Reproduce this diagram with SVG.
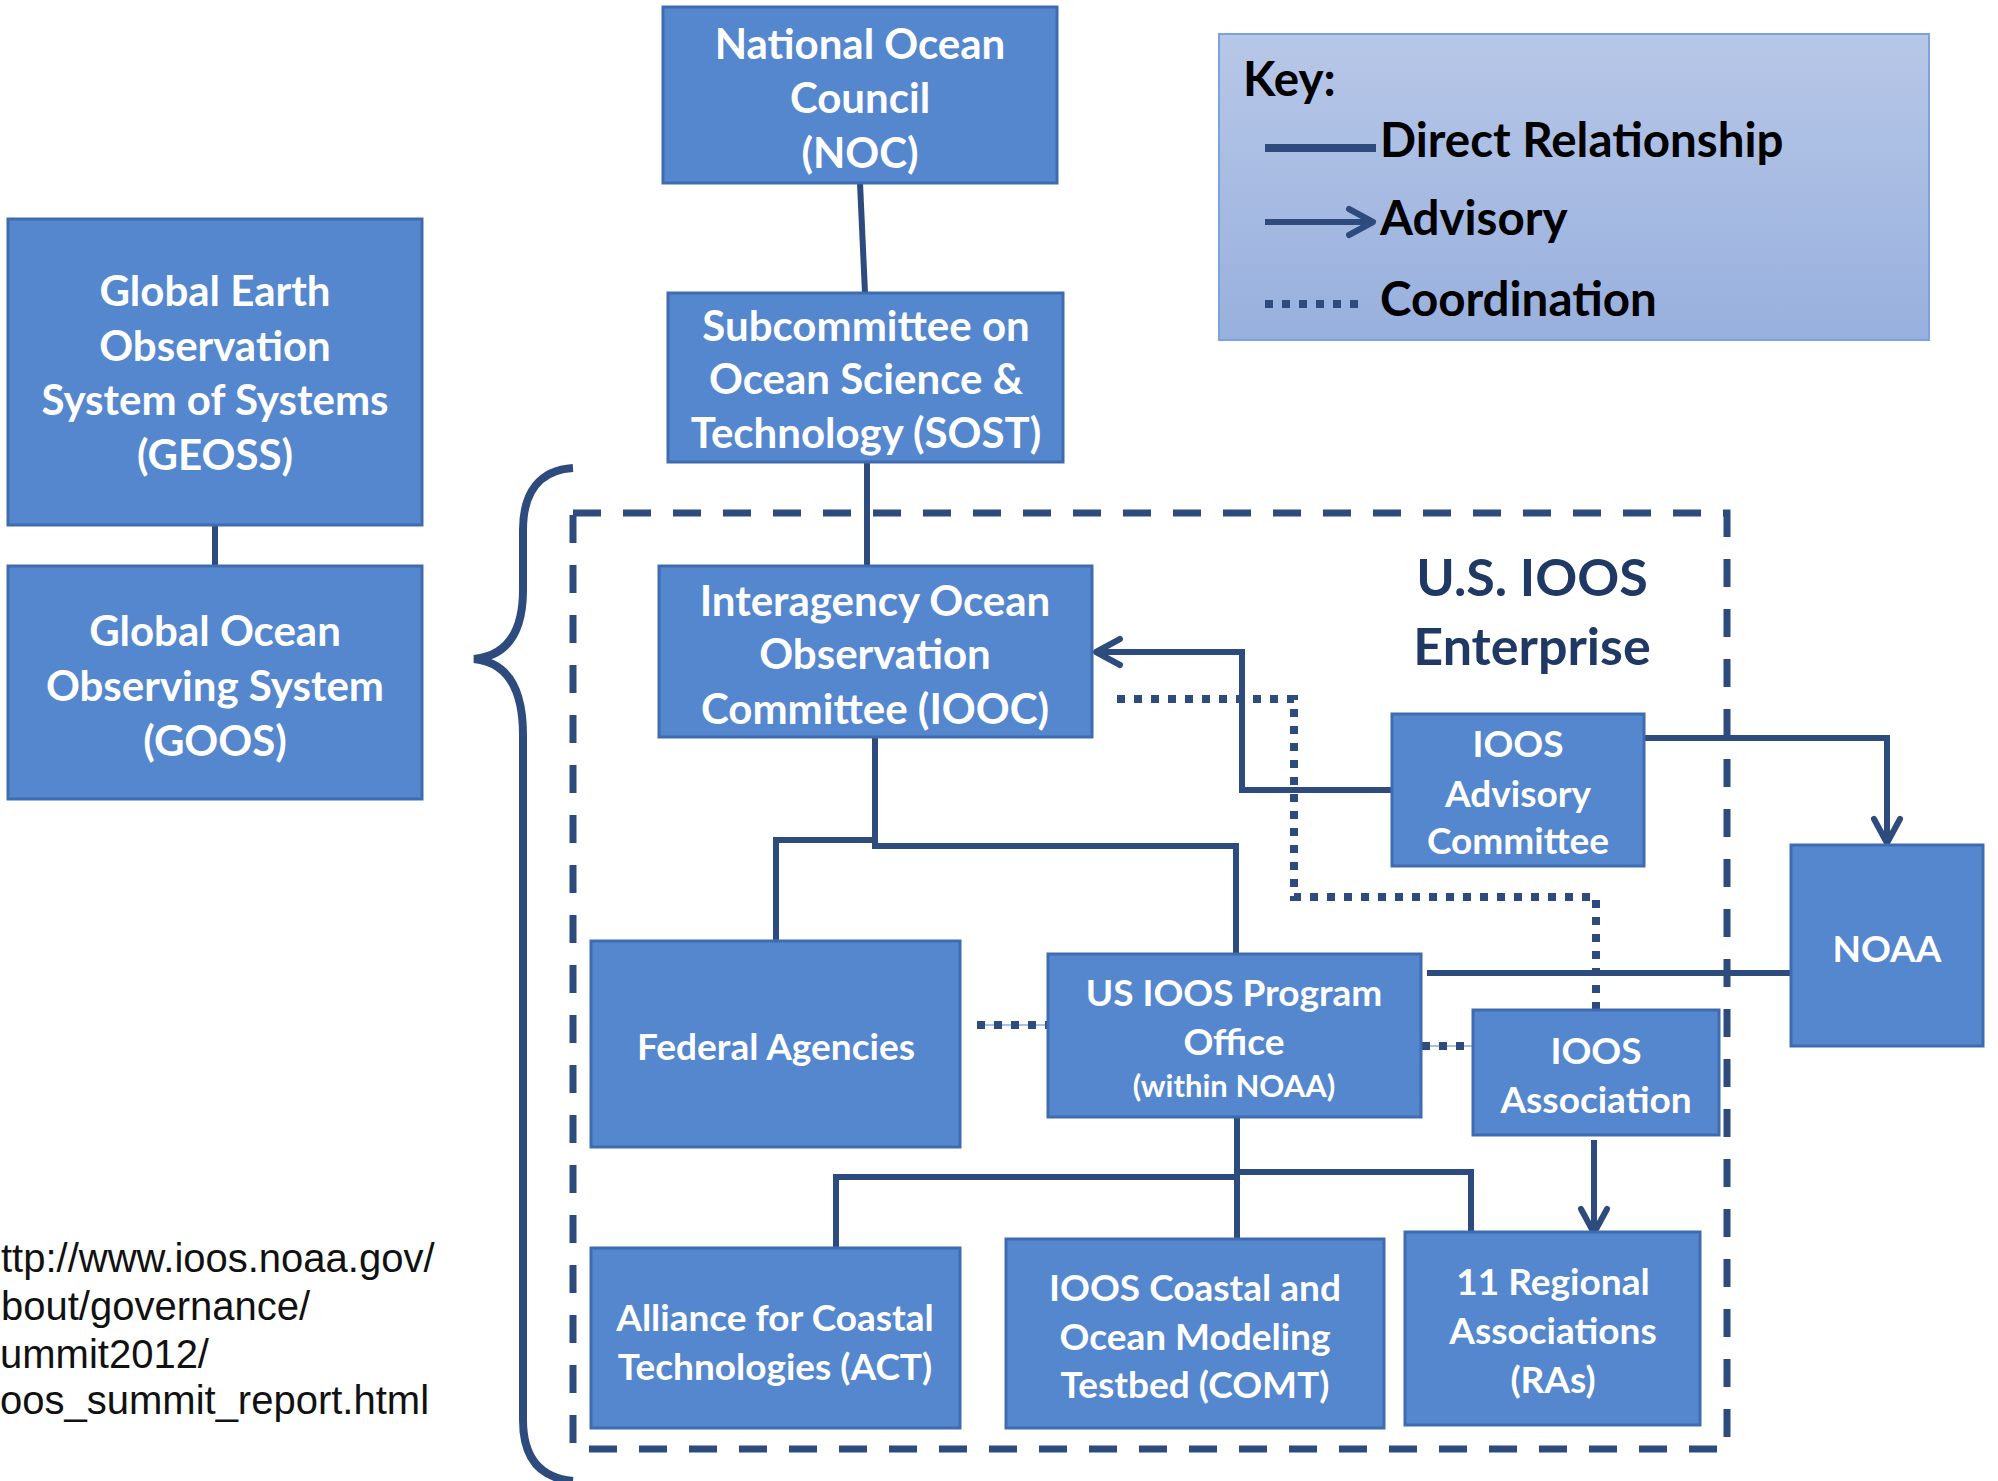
<svg xmlns="http://www.w3.org/2000/svg" width="1998" height="1481" viewBox="0 0 1998 1481">
<defs>
  <linearGradient id="keyGrad" x1="0" y1="0" x2="0" y2="1">
    <stop offset="0" stop-color="#b7c7e7"/>
    <stop offset="1" stop-color="#98b0de"/>
  </linearGradient>
  <marker id="chev" markerUnits="userSpaceOnUse" markerWidth="60" markerHeight="60" refX="0" refY="0" orient="auto" overflow="visible">
    <path d="M-24,-13 L0,0 L-24,13" fill="none" stroke="#2d4b7c" stroke-width="6" stroke-linecap="round" stroke-linejoin="round"/>
  </marker>
  <style>
    .box { fill: #5587cf; stroke: #3f6cb0; stroke-width: 3; }
    .bt { font-family: Lato, "Open Sans", sans-serif; font-weight: bold; fill: #ffffff; text-anchor: middle; }
    .big { font-size: 42px; }
    .med { font-size: 37px; }
    .small { font-size: 31px; }
    .con { fill: none; stroke: #2d4b7c; stroke-width: 6; }
    .dot { fill: none; stroke: #2d4b7c; stroke-width: 8; stroke-dasharray: 8 9; }
    .thin { fill: none; stroke: #8eaadb; stroke-width: 1.5; }
    .keyt { font-family: Lato, "Open Sans", sans-serif; font-weight: bold; font-size: 47.5px; fill: #000000; }
    .ent { font-family: Lato, "Open Sans", sans-serif; font-weight: bold; font-size: 52px; fill: #1f3864; text-anchor: middle; }
    .url { font-family: "Liberation Sans", Arial, sans-serif; font-size: 40px; fill: #111111; }
  </style>
</defs>
<rect width="1998" height="1481" fill="#ffffff"/>

<!-- Enterprise container and brace -->
<g id="enterprise">
  <rect x="573" y="513" width="1154" height="936" fill="none" stroke="#2d4b7c" stroke-width="7" stroke-dasharray="28 22"/>
  <text class="ent" x="1532" y="596">U.S. IOOS</text>
  <text class="ent" x="1532" y="665">Enterprise</text>
</g>
<g id="brace">
  <path d="M573,468 C540,470 523,492 523,530 L523,590 C523,635 505,656 474,659 C505,662 523,685 523,735 L523,1420 C523,1458 540,1478 573,1481" fill="none" stroke="#2d4b7c" stroke-width="8"/>
</g>

<!-- Connectors -->
<g id="connectors">
  <path class="con" d="M860,183 L865,293" stroke-width="8"/>
  <path class="con" d="M867,452 V566" stroke-width="8"/>
  <path class="con" d="M215,525 V566"/>
  <path class="con" d="M875,737 V846 H1236 V954"/>
  <path class="con" d="M875,840 H776 V941"/>
  <path class="con" d="M1392,790 H1242 V652 H1096" marker-end="url(#chev)"/>
  <path class="con" d="M1644,738 H1887 V843" marker-end="url(#chev)"/>
  <path class="con" d="M1427,973 H1791" stroke-width="8"/>
  <path class="con" d="M1237,1111 V1239" stroke-width="10"/>
  <path class="con" d="M1237,1177 H836 V1253"/>
  <path class="con" d="M1237,1172 H1471 V1233"/>
  <path class="con" d="M1594,1140 V1233" marker-end="url(#chev)"/>
  <path class="dot" d="M1117,699 H1294 V897 H1596 V1010"/>
  <path class="thin" d="M977,1025 H1048"/>
  <path class="dot" d="M977,1025 H1048"/>
  <path class="thin" d="M1421,1046 H1473"/>
  <path class="dot" d="M1422,1046 H1473"/>
</g>

<!-- Nodes -->
<g id="noc">
  <rect class="box" x="663" y="7" width="394" height="176"/>
  <text class="bt big" x="860" y="59">National Ocean</text>
  <text class="bt big" x="860" y="113">Council</text>
  <text class="bt big" x="860" y="168">(NOC)</text>
</g>
<g id="sost">
  <rect class="box" x="668" y="293" width="395" height="169"/>
  <text class="bt big" x="866" y="341">Subcommittee on</text>
  <text class="bt big" x="866" y="394">Ocean Science &amp;</text>
  <text class="bt big" x="866" y="448">Technology (SOST)</text>
</g>
<g id="geoss">
  <rect class="box" x="8" y="219" width="414" height="306"/>
  <text class="bt big" x="215" y="306">Global Earth</text>
  <text class="bt big" x="215" y="361">Observation</text>
  <text class="bt big" x="215" y="415">System of Systems</text>
  <text class="bt big" x="215" y="470">(GEOSS)</text>
</g>
<g id="goos">
  <rect class="box" x="8" y="566" width="414" height="233"/>
  <text class="bt big" x="215" y="646">Global Ocean</text>
  <text class="bt big" x="215" y="701">Observing System</text>
  <text class="bt big" x="215" y="756">(GOOS)</text>
</g>
<g id="iooc">
  <rect class="box" x="659" y="566" width="433" height="171"/>
  <text class="bt big" x="875" y="616">Interagency Ocean</text>
  <text class="bt big" x="875" y="669">Observation</text>
  <text class="bt big" x="875" y="724">Committee (IOOC)</text>
</g>
<g id="advisory">
  <rect class="box" x="1392" y="714" width="252" height="152"/>
  <text class="bt med" x="1518" y="757">IOOS</text>
  <text class="bt med" x="1518" y="807">Advisory</text>
  <text class="bt med" x="1518" y="854">Committee</text>
</g>
<g id="noaa">
  <rect class="box" x="1791" y="845" width="192" height="201"/>
  <text class="bt med" x="1887" y="962">NOAA</text>
</g>
<g id="federal">
  <rect class="box" x="591" y="941" width="369" height="206"/>
  <text class="bt med" x="776" y="1060">Federal Agencies</text>
</g>
<g id="program-office">
  <rect class="box" x="1048" y="954" width="373" height="163"/>
  <text class="bt med" x="1234" y="1006">US IOOS Program</text>
  <text class="bt med" x="1234" y="1055">Office</text>
  <text class="bt small" x="1234" y="1097">(within NOAA)</text>
</g>
<g id="association">
  <rect class="box" x="1473" y="1010" width="246" height="125"/>
  <text class="bt med" x="1596" y="1064">IOOS</text>
  <text class="bt med" x="1596" y="1113">Association</text>
</g>
<g id="act">
  <rect class="box" x="591" y="1248" width="369" height="180"/>
  <text class="bt med" x="775" y="1331">Alliance for Coastal</text>
  <text class="bt med" x="775" y="1380">Technologies (ACT)</text>
</g>
<g id="comt">
  <rect class="box" x="1006" y="1239" width="378" height="189"/>
  <text class="bt med" x="1195" y="1301">IOOS Coastal and</text>
  <text class="bt med" x="1195" y="1350">Ocean Modeling</text>
  <text class="bt med" x="1195" y="1398">Testbed (COMT)</text>
</g>
<g id="ras">
  <rect class="box" x="1405" y="1232" width="295" height="193"/>
  <text class="bt med" x="1553" y="1295">11 Regional</text>
  <text class="bt med" x="1553" y="1344">Associations</text>
  <text class="bt med" x="1553" y="1393">(RAs)</text>
</g>

<!-- Key -->
<g id="key">
  <rect x="1219" y="34" width="710" height="306" fill="url(#keyGrad)" stroke="#7ea0dc" stroke-width="2"/>
  <text class="keyt" x="1243" y="96">Key:</text>
  <line x1="1265" y1="148" x2="1376" y2="148" stroke="#2d4b7c" stroke-width="8"/>
  <text class="keyt" x="1380" y="157">Direct Relationship</text>
  <line x1="1265" y1="222" x2="1373" y2="222" stroke="#2d4b7c" stroke-width="6" marker-end="url(#chev)"/>
  <text class="keyt" x="1380" y="235">Advisory</text>
  <line x1="1265" y1="304" x2="1360" y2="304" stroke="#2d4b7c" stroke-width="8" stroke-dasharray="8 9"/>
  <text class="keyt" x="1380" y="316">Coordination</text>
</g>

<!-- Source URL (left part is cut off at the picture edge in the reference) -->
<g id="source">
  <text class="url" x="1" y="1272">ttp://www.ioos.noaa.gov/</text>
  <text class="url" x="1" y="1320">bout/governance/</text>
  <text class="url" x="0" y="1368">ummit2012/</text>
  <text class="url" x="0" y="1414">oos_summit_report.html</text>
</g>
</svg>
